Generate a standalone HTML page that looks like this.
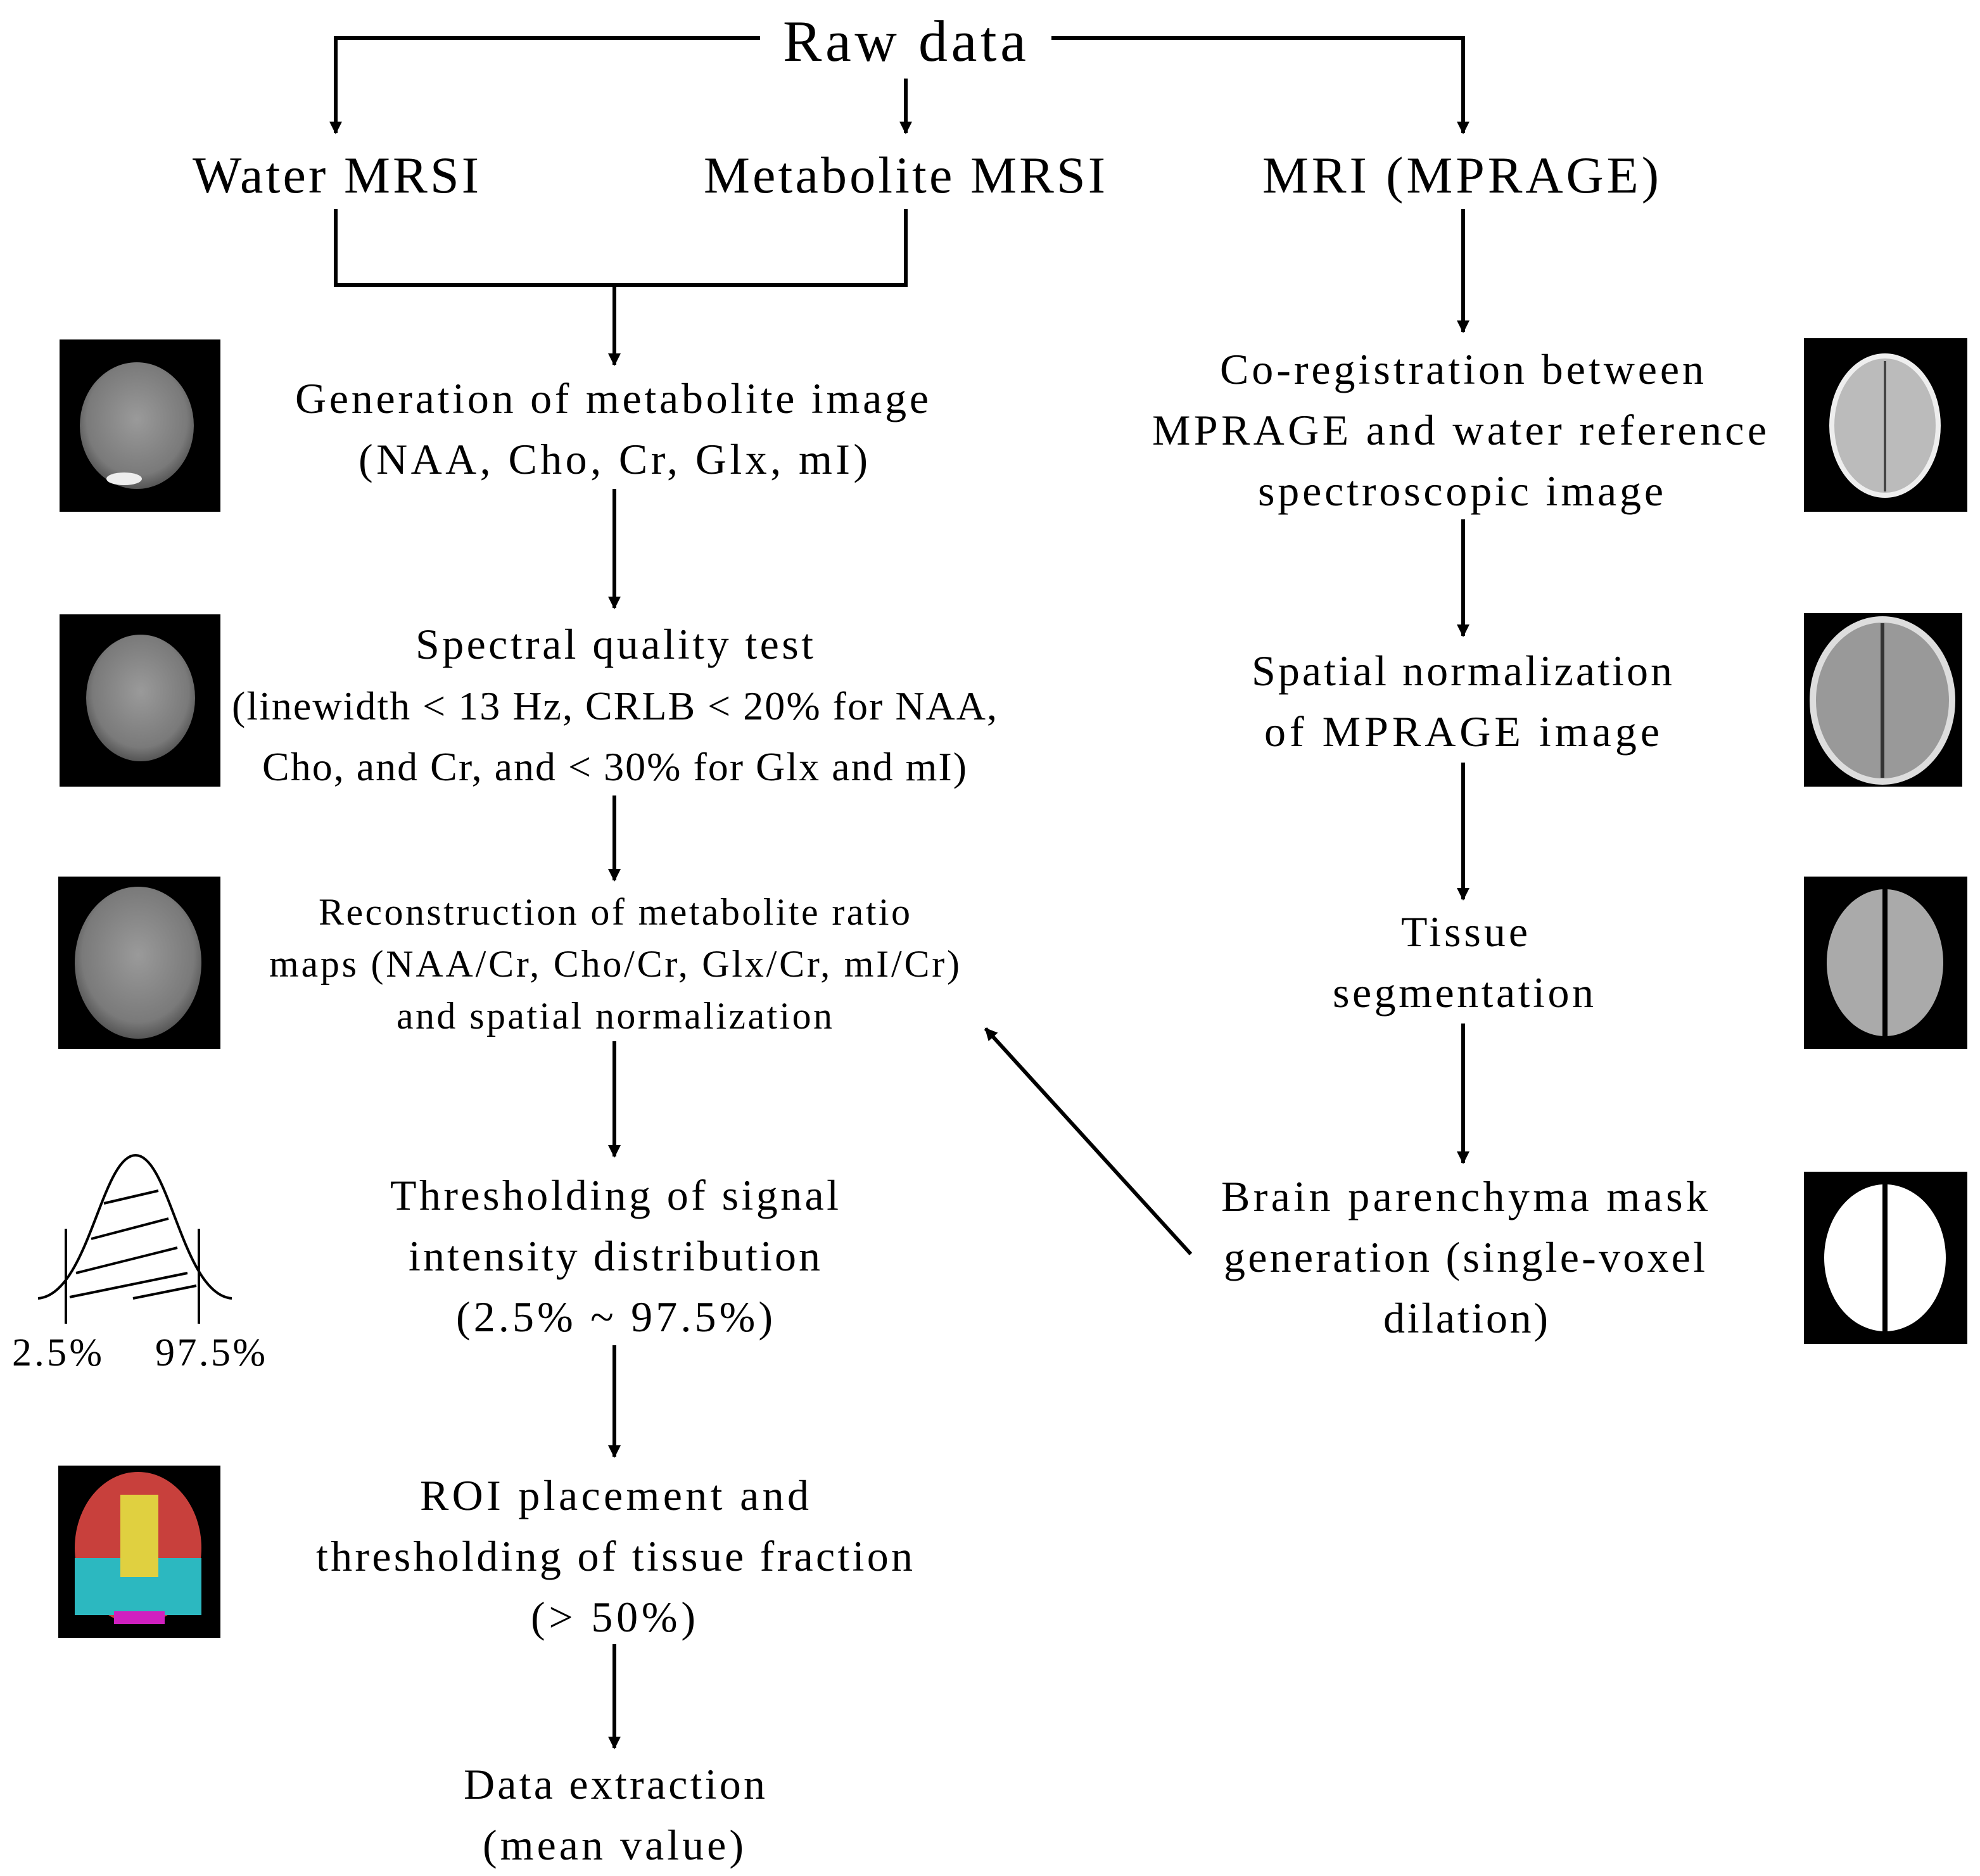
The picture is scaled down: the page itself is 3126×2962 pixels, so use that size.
<!DOCTYPE html>
<html><head><meta charset="utf-8">
<style>
html,body{margin:0;padding:0;background:#fff;}
svg{display:block;}
text{font-family:"Liberation Serif",serif;fill:#000;text-anchor:middle;}
</style></head>
<body>
<svg width="3126" height="2962" viewBox="0 0 1563 1481" xmlns="http://www.w3.org/2000/svg">
<defs>
<marker id="a" markerWidth="10" markerHeight="10" refX="9" refY="5" orient="auto" markerUnits="userSpaceOnUse" viewBox="0 0 10 10">
<path d="M0,0 L10,5 L0,10 z" fill="#000"/></marker>
<radialGradient id="g1" cx="50%" cy="45%" r="55%"><stop offset="0" stop-color="#9a9a9a"/><stop offset="0.8" stop-color="#7a7a7a"/><stop offset="1" stop-color="#555"/></radialGradient>
</defs>
<g stroke="#000" stroke-width="3" fill="none">
<polyline points="600,30 265,30 265,105" marker-end="url(#a)"/>
<polyline points="830,30 1155,30 1155,105" marker-end="url(#a)"/>
<line x1="715" y1="62" x2="715" y2="105" marker-end="url(#a)"/>
<polyline points="265,165 265,225 715,225 715,165"/>
<line x1="485" y1="225" x2="485" y2="288" marker-end="url(#a)"/>
<line x1="485" y1="386" x2="485" y2="480" marker-end="url(#a)"/>
<line x1="485" y1="628" x2="485" y2="695" marker-end="url(#a)"/>
<line x1="485" y1="822" x2="485" y2="913" marker-end="url(#a)"/>
<line x1="485" y1="1062" x2="485" y2="1150" marker-end="url(#a)"/>
<line x1="485" y1="1298" x2="485" y2="1380" marker-end="url(#a)"/>
<line x1="1155" y1="165" x2="1155" y2="262" marker-end="url(#a)"/>
<line x1="1155" y1="410" x2="1155" y2="502" marker-end="url(#a)"/>
<line x1="1155" y1="602" x2="1155" y2="710" marker-end="url(#a)"/>
<line x1="1155" y1="808" x2="1155" y2="918" marker-end="url(#a)"/>
<line x1="940" y1="990" x2="778" y2="812" marker-end="url(#a)"/>
</g>
<g lengthAdjust="spacing">
<text x="714" y="48" font-size="46" textLength="192" lengthAdjust="spacing">Raw data</text>
<text x="265" y="152" font-size="41" textLength="226" lengthAdjust="spacing">Water MRSI</text>
<text x="714" y="152" font-size="41" textLength="317" lengthAdjust="spacing">Metabolite MRSI</text>
<text x="1153" y="152" font-size="41" textLength="313" lengthAdjust="spacing">MRI (MPRAGE)</text>
</g>
<g font-size="34">
<text x="483" y="326" textLength="500" lengthAdjust="spacing">Generation of metabolite image</text>
<text x="484" y="374" textLength="402" lengthAdjust="spacing">(NAA, Cho, Cr, Glx, mI)</text>
<text x="485" y="520" textLength="314" lengthAdjust="spacing">Spectral quality test</text>
</g>
<g font-size="32">
<text x="485" y="568" textLength="604" lengthAdjust="spacing">(linewidth &lt; 13 Hz, CRLB &lt; 20% for NAA,</text>
<text x="485" y="616" textLength="556" lengthAdjust="spacing">Cho, and Cr, and &lt; 30% for Glx and mI)</text>
</g>
<g font-size="30">
<text x="485" y="730" textLength="467" lengthAdjust="spacing">Reconstruction of metabolite ratio</text>
<text x="485" y="771" textLength="545" lengthAdjust="spacing">maps (NAA/Cr, Cho/Cr, Glx/Cr, mI/Cr)</text>
<text x="485" y="812" textLength="344" lengthAdjust="spacing">and spatial normalization</text>
</g>
<g font-size="34">
<text x="485" y="955" textLength="354" lengthAdjust="spacing">Thresholding of signal</text>
<text x="485" y="1003" textLength="325" lengthAdjust="spacing">intensity distribution</text>
<text x="485" y="1051" textLength="250" lengthAdjust="spacing">(2.5% ~ 97.5%)</text>
<text x="485" y="1192" textLength="307" lengthAdjust="spacing">ROI placement and</text>
<text x="485" y="1240" textLength="471" lengthAdjust="spacing">thresholding of tissue fraction</text>
<text x="484" y="1288" textLength="130" lengthAdjust="spacing">(&gt; 50%)</text>
<text x="485" y="1420" textLength="238" lengthAdjust="spacing">Data extraction</text>
<text x="484" y="1468" textLength="206" lengthAdjust="spacing">(mean value)</text>
<text x="1154" y="303" textLength="382" lengthAdjust="spacing">Co-registration between</text>
<text x="1152" y="351" textLength="485" lengthAdjust="spacing">MPRAGE and water reference</text>
<text x="1153" y="399" textLength="320" lengthAdjust="spacing">spectroscopic image</text>
<text x="1154" y="541" textLength="332" lengthAdjust="spacing">Spatial normalization</text>
<text x="1154" y="589" textLength="312" lengthAdjust="spacing">of MPRAGE image</text>
<text x="1156" y="747" textLength="100" lengthAdjust="spacing">Tissue</text>
<text x="1155" y="795" textLength="206" lengthAdjust="spacing">segmentation</text>
<text x="1156" y="956" textLength="384" lengthAdjust="spacing">Brain parenchyma mask</text>
<text x="1156" y="1004" textLength="380" lengthAdjust="spacing">generation (single-voxel</text>
<text x="1157" y="1052" textLength="130" lengthAdjust="spacing">dilation)</text>
</g>
<!-- left images -->
<rect x="47" y="268" width="127" height="136" fill="#000"/>
<ellipse cx="108" cy="336" rx="45" ry="50" fill="url(#g1)"/>
<ellipse cx="98" cy="378" rx="14" ry="5" fill="#eee"/>
<rect x="47" y="485" width="127" height="136" fill="#000"/>
<ellipse cx="111" cy="551" rx="43" ry="50" fill="url(#g1)"/>
<rect x="46" y="692" width="128" height="136" fill="#000"/>
<ellipse cx="109" cy="760" rx="50" ry="60" fill="url(#g1)"/>
<rect x="46" y="1157" width="128" height="136" fill="#000"/>
<ellipse cx="109" cy="1222" rx="50" ry="60" fill="#c8403c"/>
<rect x="59" y="1230" width="100" height="45" fill="#2cb8c0"/>
<rect x="95" y="1180" width="30" height="65" fill="#e0d040"/>
<rect x="90" y="1272" width="40" height="10" fill="#d020c0"/>
<!-- right images -->
<rect x="1424" y="267" width="129" height="137" fill="#000"/>
<ellipse cx="1488" cy="336" rx="42" ry="55" fill="#bbb" stroke="#eee" stroke-width="4"/>
<line x1="1488" y1="285" x2="1488" y2="388" stroke="#444" stroke-width="2"/>
<rect x="1424" y="484" width="125" height="137" fill="#000"/>
<ellipse cx="1486" cy="553" rx="55" ry="64" fill="#999" stroke="#ddd" stroke-width="5"/>
<line x1="1486" y1="492" x2="1486" y2="614" stroke="#333" stroke-width="3"/>
<rect x="1424" y="692" width="129" height="136" fill="#000"/>
<ellipse cx="1488" cy="760" rx="46" ry="58" fill="#aaa"/>
<line x1="1488" y1="702" x2="1488" y2="818" stroke="#000" stroke-width="4"/>
<rect x="1424" y="925" width="129" height="136" fill="#000"/>
<ellipse cx="1488" cy="993" rx="48" ry="58" fill="#fff"/>
<line x1="1488" y1="935" x2="1488" y2="1051" stroke="#000" stroke-width="4"/>
<!-- gaussian -->
<g stroke="#000" stroke-width="2" fill="none">
<path d="M30,1025 C70,1022 80,912 107,912 C134,912 144,1022 183,1025"/>
<line x1="52" y1="970" x2="52" y2="1045"/>
<line x1="157" y1="970" x2="157" y2="1045"/>
<line x1="82" y1="950" x2="125" y2="940"/>
<line x1="72" y1="978" x2="133" y2="962"/>
<line x1="60" y1="1005" x2="140" y2="985"/>
<line x1="55" y1="1024" x2="148" y2="1005"/>
<line x1="105" y1="1025" x2="155" y2="1015"/>
</g>
<text x="45" y="1078" font-size="31" textLength="71" lengthAdjust="spacing">2.5%</text>
<text x="166" y="1078" font-size="31" textLength="87" lengthAdjust="spacing">97.5%</text>
</svg>
</body></html>
